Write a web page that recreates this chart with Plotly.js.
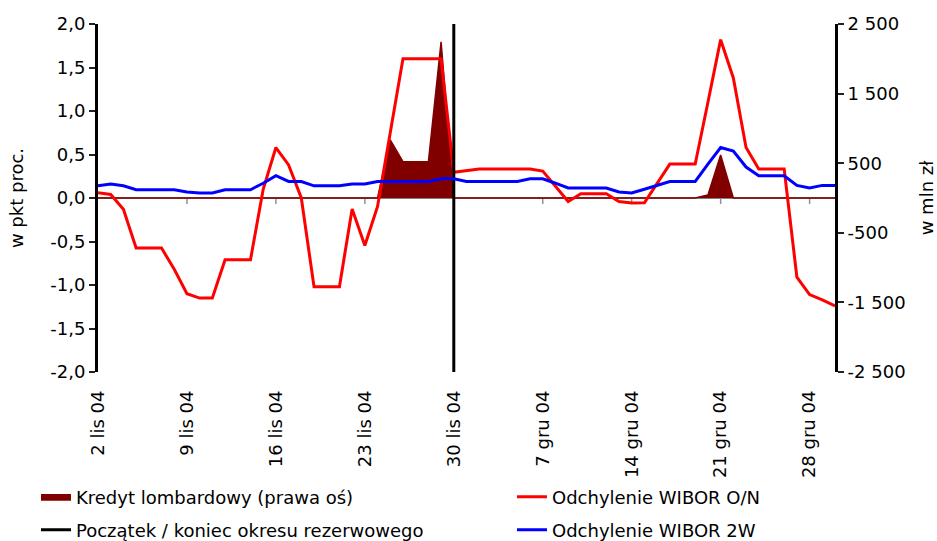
<!DOCTYPE html>
<html>
<head>
<meta charset="utf-8">
<script src="https://cdn.plot.ly/plotly-3.0.1.min.js"></script>
<style>html,body{margin:0;padding:0;background:#fff;}#chart{width:937px;height:541px;}</style>
</head>
<body>
<div id="chart"></div>
<script>
const dates = [
 '2004-11-02','2004-11-03','2004-11-04','2004-11-05','2004-11-06','2004-11-07','2004-11-08',
 '2004-11-09','2004-11-10','2004-11-11','2004-11-12','2004-11-13','2004-11-14','2004-11-15',
 '2004-11-16','2004-11-17','2004-11-18','2004-11-19','2004-11-20','2004-11-21','2004-11-22',
 '2004-11-23','2004-11-24','2004-11-25','2004-11-26','2004-11-27','2004-11-28','2004-11-29',
 '2004-11-30','2004-12-01','2004-12-02','2004-12-03','2004-12-04','2004-12-05','2004-12-06',
 '2004-12-07','2004-12-08','2004-12-09','2004-12-10','2004-12-11','2004-12-12','2004-12-13',
 '2004-12-14','2004-12-15','2004-12-16','2004-12-17','2004-12-18','2004-12-19','2004-12-20',
 '2004-12-21','2004-12-22','2004-12-23','2004-12-24','2004-12-25','2004-12-26','2004-12-27',
 '2004-12-28','2004-12-29','2004-12-30'
];
const wiborON = [
 0.06, 0.04, -0.13, -0.575, -0.575, -0.575, -0.82,
 -1.10, -1.15, -1.15, -0.71, -0.71, -0.71, 0.10,
 0.58, 0.38, 0.00, -1.02, -1.02, -1.02, -0.126,
 -0.545, -0.097, 0.75, 1.60, 1.60, 1.60, 1.60,
 0.295, 0.314, 0.333, 0.333, 0.333, 0.333, 0.333,
 0.31, 0.14, -0.04, 0.05, 0.05, 0.05, -0.04,
 -0.058, -0.055, 0.17, 0.39, 0.39, 0.39, 1.10,
 1.82, 1.38, 0.58, 0.333, 0.333, 0.333, -0.91,
 -1.11, -1.17, -1.24
];
const wibor2W = [
 0.14, 0.16, 0.14, 0.095, 0.095, 0.095, 0.095,
 0.07, 0.057, 0.057, 0.095, 0.095, 0.095, 0.17,
 0.256, 0.19, 0.19, 0.14, 0.14, 0.14, 0.16,
 0.16, 0.19, 0.19, 0.19, 0.19, 0.19, 0.22,
 0.22, 0.19, 0.19, 0.19, 0.19, 0.19, 0.22,
 0.22, 0.17, 0.115, 0.115, 0.115, 0.115, 0.07,
 0.057, 0.10, 0.145, 0.19, 0.19, 0.19, 0.39,
 0.58, 0.54, 0.356, 0.256, 0.256, 0.256, 0.145,
 0.115, 0.145, 0.145
];
const lombard = [
 0, 0, 0, 0, 0, 0, 0,
 0, 0, 0, 0, 0, 0, 0,
 0, 0, 0, 0, 0, 0, 0,
 0, 0, 835, 521, 521, 521, 2245,
 0, 0, 0, 0, 0, 0, 0,
 0, 0, 0, 0, 0, 0, 0,
 0, 0, 0, 0, 0, 0, 45,
 618, 0, 0, 0, 0, 0, 0,
 0, 0, 0
];
const reserveDate = '2004-11-30';
const reserveSpan = [-2, 2];
const tickDates = ['2004-11-02','2004-11-09','2004-11-16','2004-11-23','2004-11-30','2004-12-07','2004-12-14','2004-12-21','2004-12-28'];
const tickLabels = ['2 lis 04','9 lis 04','16 lis 04','23 lis 04','30 lis 04','7 gru 04','14 gru 04','21 gru 04','28 gru 04'];
const leftTickVals = [-2, -1.5, -1, -0.5, 0, 0.5, 1, 1.5, 2];
const leftTickText = ['-2,0','-1,5','-1,0','-0,5','0,0','0,5','1,0','1,5','2,0'];
const rightTickVals = [-2500, -1500, -500, 500, 1500, 2500];
const rightTickText = ['-2 500','-1 500','-500','500','1 500','2 500'];
const names = ['Kredyt lombardowy (prawa oś)','Odchylenie WIBOR O/N','Początek / koniec okresu rezerwowego','Odchylenie WIBOR 2W'];

const FONT = 'DejaVu Sans, sans-serif';
const FS = 18;

const traces = [
 {x: dates, y: lombard, type: 'scatter', mode: 'lines', fill: 'tozeroy',
  fillcolor: '#800000', line: {color: '#800000', width: 1.5}, name: names[0],
  xaxis: 'x', yaxis: 'y', legend: 'legend'},
 {x: dates, y: wiborON, type: 'scatter', mode: 'lines',
  line: {color: '#FF0000', width: 3}, name: names[1], xaxis: 'x', yaxis: 'y2', legend: 'legend2'},
 {x: [reserveDate, reserveDate], y: reserveSpan, type: 'scatter', mode: 'lines',
  line: {color: '#000000', width: 3}, name: names[2], xaxis: 'x', yaxis: 'y2', legend: 'legend3'},
 {x: dates, y: wibor2W, type: 'scatter', mode: 'lines',
  line: {color: '#0000FF', width: 3}, name: names[3], xaxis: 'x', yaxis: 'y2', legend: 'legend4'}
];

const shapes = [
 {type: 'line', xref: 'paper', x0: 0, x1: 1, yref: 'y2', y0: 0, y1: 0,
  line: {color: '#808080', width: 2}, layer: 'below'}
].concat(tickDates.slice(1).map(d => ({
  type: 'line', xref: 'x', x0: d, x1: d, yref: 'y2', ysizemode: 'pixel', yanchor: 0,
  y0: 0, y1: -6, line: {color: '#909090', width: 1.5}, layer: 'below'
})));

const axisCommon = {
  showline: true, linecolor: '#000', linewidth: 3, ticks: 'outside', ticklen: 6,
  tickwidth: 2, tickcolor: '#222', showgrid: false, zeroline: false,
  tickfont: {family: FONT, size: FS, color: '#000'}
};

function legendAt(x, y) {
  return {orientation: 'h', xref: 'container', yref: 'container',
    x: x, xanchor: 'left', y: y, yanchor: 'middle',
    font: {family: FONT, size: FS, color: '#000'}, bgcolor: 'rgba(0,0,0,0)', borderwidth: 0};
}

const layout = {
  width: 937, height: 541,
  margin: {l: 98, r: 102, t: 24, b: 169},
  paper_bgcolor: '#fff', plot_bgcolor: '#fff',
  font: {family: FONT, size: FS, color: '#000'},
  showlegend: true,
  xaxis: {
    type: 'date', range: [dates[0], dates[dates.length - 1]],
    tickmode: 'array', tickvals: tickDates, ticktext: tickLabels, tickangle: -90,
    showgrid: false, zeroline: false, showline: false, ticks: '',
    ticklabelstandoff: 14, automargin: false,
    tickfont: {family: FONT, size: FS, color: '#000'}
  },
  yaxis: Object.assign({}, axisCommon, {
    side: 'right', range: [-2500, 2500], tickmode: 'array',
    tickvals: rightTickVals, ticktext: rightTickText,
    title: {text: 'w mln zł', font: {family: FONT, size: FS, color: '#000'}, standoff: 18}
  }),
  yaxis2: Object.assign({}, axisCommon, {
    side: 'left', overlaying: 'y', range: [-2, 2], tickmode: 'array',
    tickvals: leftTickVals, ticktext: leftTickText,
    title: {text: 'w pkt proc.', font: {family: FONT, size: FS, color: '#000'}, standoff: 22}
  }),
  legend: legendAt(0.0384, 0.0813),
  legend2: legendAt(0.5464, 0.0813),
  legend3: legendAt(0.0384, 0.0203),
  legend4: legendAt(0.5464, 0.0203),
  shapes: shapes
};

Plotly.newPlot('chart', traces, layout, {displayModeBar: false, staticPlot: true});
</script>
</body>
</html>
